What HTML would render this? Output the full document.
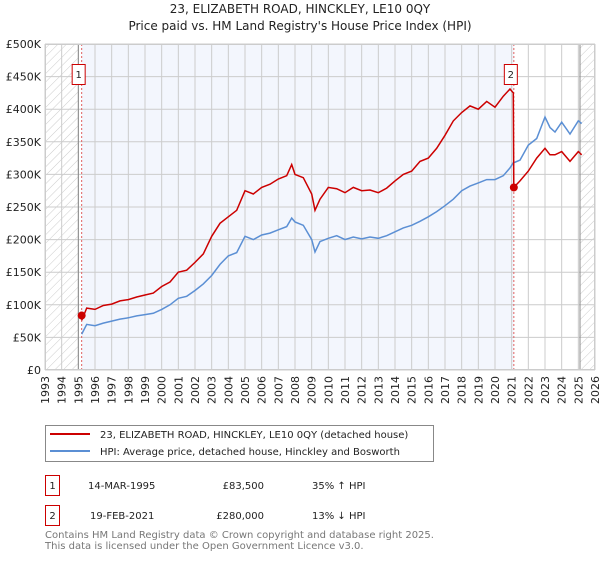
<!DOCTYPE html>
<html><head><meta charset="utf-8"><style>
body{margin:0;background:#fff;font-family:"DejaVu Sans","Liberation Sans",sans-serif;}
svg text{font-family:"DejaVu Sans","Liberation Sans",sans-serif;}
</style></head><body>
<svg id="chart" width="600" height="560" xmlns="http://www.w3.org/2000/svg">
<defs><pattern id="hatch" width="6" height="6" patternUnits="userSpaceOnUse" patternTransform="rotate(45)"><line x1="0" y1="0" x2="0" y2="6" stroke="#ccc" stroke-width="1"/></pattern></defs>
<text x="300" y="13" text-anchor="middle" font-size="12" fill="#222">23, ELIZABETH ROAD, HINCKLEY, LE10 0QY</text>
<text x="300" y="30" text-anchor="middle" font-size="12" fill="#222">Price paid vs. HM Land Registry's House Price Index (HPI)</text>
<g id="plot"></g>
<g>
<rect x="45.5" y="425.5" width="388" height="36" fill="#fff" stroke="#888"/>
<line x1="50" y1="434" x2="90" y2="434" stroke="#cc0000" stroke-width="2"/>
<text x="100" y="438" font-size="10" fill="#222">23, ELIZABETH ROAD, HINCKLEY, LE10 0QY (detached house)</text>
<line x1="50" y1="451" x2="90" y2="451" stroke="#5b8fd4" stroke-width="2"/>
<text x="100" y="455" font-size="10" fill="#222">HPI: Average price, detached house, Hinckley and Bosworth</text>
</g>
<g font-size="10" fill="#222">
<rect x="45.5" y="475.5" width="14" height="20" fill="#fff" stroke="#cc0000"/>
<text x="52.5" y="489" text-anchor="middle">1</text>
<text x="88" y="489">14-MAR-1995</text>
<text x="264" y="489" text-anchor="end">£83,500</text>
<text x="312" y="489">35% ↑ HPI</text>
<rect x="45.5" y="505.5" width="14" height="20" fill="#fff" stroke="#cc0000"/>
<text x="52.5" y="519" text-anchor="middle">2</text>
<text x="90" y="519">19-FEB-2021</text>
<text x="264" y="519" text-anchor="end">£280,000</text>
<text x="312" y="519">13% ↓ HPI</text>
</g>
<g font-size="10" fill="#777">
<text x="45" y="538">Contains HM Land Registry data © Crown copyright and database right 2025.</text>
<text x="45" y="549">This data is licensed under the Open Government Licence v3.0.</text>
</g>
</svg>
<script>
const tickYears=[1993,1994,1995,1996,1997,1998,1999,2000,2001,2002,2003,2004,2005,2006,2007,2008,2009,2010,2011,2012,2013,2014,2015,2016,2017,2018,2019,2020,2021,2022,2023,2024,2025,2026];
const tickValues=[0,50,100,150,200,250,300,350,400,450,500];
const tickLabels=["£0","£50K","£100K","£150K","£200K","£250K","£300K","£350K","£400K","£450K","£500K"];
const preDates=[1995.2,1995.5,1996,1996.5,1997,1997.5,1998,1998.5,1999,1999.5,2000,2000.5,2001,2001.5,2002,2002.5,2003,2003.5,2004,2004.5,2005,2005.5,2006,2006.5,2007,2007.5,2007.8,2008,2008.5,2009,2009.2,2009.5,2010,2010.5,2011,2011.5,2012,2012.5,2013,2013.5,2014,2014.5,2015,2015.5,2016,2016.5,2017,2017.5,2018,2018.5,2019,2019.5,2020,2020.5,2020.9,2021.1];
const preRed=[76,95,93,99,101,106,108,112,115,118,128,135,150,153,165,178,205,225,235,245,275,270,280,285,293,298,315,300,295,270,245,262,280,278,272,280,275,276,272,279,290,300,305,320,325,340,360,382,395,405,400,412,403,420,431,425];
const preBlue=[55,70,68,72,75,78,80,83,85,87,93,100,110,113,122,132,145,162,175,180,205,200,207,210,215,220,233,227,222,200,181,197,202,206,200,204,201,204,202,206,212,218,222,228,235,243,252,262,275,282,287,292,292,298,310,318];
const postDates=[2021.13,2021.5,2022,2022.5,2023,2023.3,2023.6,2024,2024.5,2025,2025.2];
const postRed=[280,290,305,325,340,330,330,335,320,335,330];
const postBlue=[318,322,345,355,388,372,365,380,362,382,378];
const sales=[{t:1995.2,v:83.5,label:"1"},{t:2021.13,v:280,label:"2"}];
const histStart=1995.0, histEnd=2025.1;

const X0=45,X1=595,Y0=370,Y1=44;
const x=t=>X0+(t-1993)/(2026-1993)*(X1-X0);
const y=v=>Y0-v/500*(Y0-Y1);
const NS="http://www.w3.org/2000/svg";
const g=document.getElementById('plot');
function mk(tag,attrs){const e=document.createElementNS(NS,tag);for(const k in attrs)e.setAttribute(k,attrs[k]);g.appendChild(e);return e;}
let e;
e=mk('rect',{x:x(sales[0].t),y:Y1,width:x(sales[1].t)-x(sales[0].t),height:Y0-Y1,fill:'#f3f6fd'});


e=mk('rect',{x:X0,y:Y1,width:x(histStart)-X0,height:Y0-Y1,fill:'url(#hatch)'});


e=mk('rect',{x:x(histEnd),y:Y1,width:X1-x(histEnd),height:Y0-Y1,fill:'url(#hatch)'});


tickYears.forEach(yr=>{
 e=mk('line',{x1:x(yr),x2:x(yr),y1:Y1,y2:Y0,stroke:'#ccc','stroke-width':1});
 
 
 e=mk('text',{x:0,y:0,'font-size':11,fill:'#222','text-anchor':'end',transform:`translate(${x(yr)+4},${Y0+6}) rotate(-90)`});
 e.textContent=yr;
 
 
});
tickValues.forEach((v,i)=>{
 e=mk('line',{x1:X0,x2:X1,y1:y(v),y2:y(v),stroke:'#ccc','stroke-width':1});
 
 
 e=mk('text',{x:X0-4,y:y(v)+4,'font-size':11,fill:'#222','text-anchor':'end'});
 e.textContent=tickLabels[i];
 
 
});
[histStart,histEnd].forEach(t=>{
 e=mk('line',{x1:x(t),x2:x(t),y1:Y1,y2:Y0,stroke:'#888','stroke-width':1});
 
 
});
sales.forEach(s=>{
 e=mk('line',{x1:x(s.t),x2:x(s.t),y1:Y1,y2:Y0,stroke:'#e06060','stroke-width':1,'stroke-dasharray':'2,2'});
 
 
});
const pts=(ds,vs)=>ds.map((d,i)=>x(d).toFixed(1)+','+y(vs[i]).toFixed(1)).join(' ');
e=mk('polyline',{points:pts(preDates.concat(postDates),preBlue.concat(postBlue)),fill:'none',stroke:'#5b8fd4','stroke-width':1.5});


e=mk('polyline',{points:pts(preDates.concat(postDates),preRed.concat(postRed)),fill:'none',stroke:'#cc0000','stroke-width':1.5});


sales.forEach(s=>{
 e=mk('circle',{cx:x(s.t),cy:y(s.v),r:4,fill:'#cc0000'});
 
 
 e=mk('rect',{x:x(s.t)-9.5,y:64.5,width:13,height:20,fill:'#fff',stroke:'#cc0000'});
 
 
 e=mk('text',{x:x(s.t)-3,y:78,'font-size':10,fill:'#222','text-anchor':'middle'});
 e.textContent=s.label;
 
 
});
e=mk('rect',{x:X0+.5,y:Y1+.5,width:X1-X0-1,height:Y0-Y1-1,fill:'none',stroke:'#ccc'});


</script>
</body></html>
